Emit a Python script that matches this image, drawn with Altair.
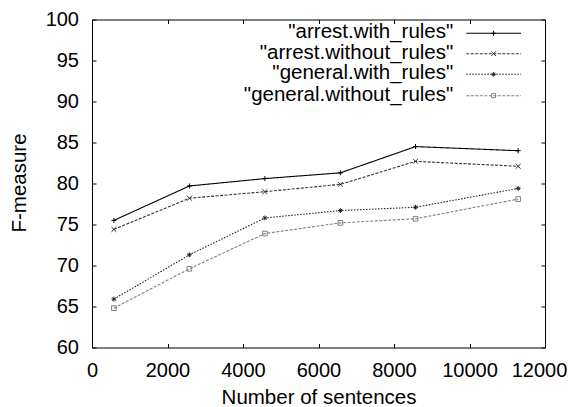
import altair as alt
import pandas as pd

# ---- data ----
sentences = [580, 2580, 4580, 6580, 8570, 11290]
series_names = ['"arrest.with_rules"', '"arrest.without_rules"',
                '"general.with_rules"', '"general.without_rules"']
arrest_with = [75.5, 79.7, 80.6, 81.3, 84.5, 84.0]
arrest_without = [74.4, 78.2, 79.0, 79.9, 82.7, 82.1]
general_with = [65.9, 71.3, 75.8, 76.7, 77.1, 79.4]
general_without = [64.8, 69.6, 73.9, 75.2, 75.7, 78.1]
x_ticks = [0, 2000, 4000, 6000, 8000, 10000, 12000]
y_ticks = [60, 65, 70, 75, 80, 85, 90, 95, 100]

# ---- styles ----
FONT = "Liberation Sans"
FS = 20.5
TFS = 20
colors = ["#000000", "#333333", "#222222", "#808080"]
dashes = [[1, 0], [3, 1.5], [1.5, 1.5], [3, 1.5]]
shapes = ["M-1,0L1,0M0,-1L0,1",
          "M-1,-1L1,1M-1,1L1,-1",
          "M-1,0L1,0M0,-1L0,1M-0.7,-0.7L0.7,0.7M-0.7,0.7L0.7,-0.7",
          "square"]
sizes = [25, 22, 20, 16]

all_values = [arrest_with, arrest_without, general_with, general_without]
rows = []
for name, vals in zip(series_names, all_values):
    for x, v in zip(sentences, vals):
        rows.append({"series": name, "x": x, "y": v})
df = pd.DataFrame(rows)

W, H = 453, 328
TICK = 4

xscale = alt.Scale(domain=[0, 12000], nice=False, zero=False)
yscale = alt.Scale(domain=[60, 100], nice=False, zero=False)
cscale = alt.Scale(domain=series_names, range=colors)
dscale = alt.Scale(domain=series_names, range=dashes)
sscale = alt.Scale(domain=series_names, range=shapes)
zscale = alt.Scale(domain=series_names, range=sizes)

last_x = x_ticks[-1]

lines = alt.Chart(df).mark_line(strokeWidth=1.1).encode(
    x=alt.X("x:Q", scale=xscale,
            axis=alt.Axis(orient="bottom", values=x_ticks, format="d",
                          offset=-TICK, tickSize=TICK,
                          labelPadding=13, title="Number of sentences",
                          titleX=W / 2, titleY=60, titleBaseline="alphabetic",
                          titleAlign="center", labelFlush=False, labelOverlap=False,
                          labelOffset={"condition": {"test": f"datum.value == {last_x}",
                                                     "value": -6},
                                       "value": 0})),
    y=alt.Y("y:Q", scale=yscale,
            axis=alt.Axis(orient="left", values=y_ticks, format="d",
                          offset=-TICK, tickSize=TICK,
                          labelPadding=13.5, title="F-measure",
                          titleX=-70.5, titleY=163, titleAngle=270,
                          titleBaseline="alphabetic", titleAlign="center",
                          labelOverlap=False, labelFlush=False)),
    color=alt.Color("series:N", scale=cscale, legend=None),
    strokeDash=alt.StrokeDash("series:N", scale=dscale, legend=None),
    detail="series:N",
)

points = alt.Chart(df).mark_point(filled=False, strokeWidth=1, opacity=1).encode(
    x=alt.X("x:Q", scale=xscale,
            axis=alt.Axis(orient="top", values=x_ticks, offset=-TICK, tickSize=TICK,
                          labels=False, title=None)),
    y=alt.Y("y:Q", scale=yscale,
            axis=alt.Axis(orient="right", values=y_ticks, offset=-TICK, tickSize=TICK,
                          labels=False, title=None)),
    color=alt.Color("series:N", scale=cscale, legend=None),
    shape=alt.Shape("series:N", scale=sscale, legend=None),
    size=alt.Size("series:N", scale=zscale, legend=None),
)

# ---- manual gnuplot-style legend (key chrome) ----
leg_line_y = [13.8, 34.2, 54.8, 76.2]
legend_layers = []
for i, name in enumerate(series_names):
    one = pd.DataFrame({"series": [name]})
    ly = leg_line_y[i]
    legend_layers.append(
        alt.Chart(one).mark_text(align="right", baseline="alphabetic", font=FONT,
                                 fontSize=FS, color="black").encode(
            text="series:N", x=alt.value(361.3), y=alt.value(ly + 4.8)))
    legend_layers.append(
        alt.Chart(one).mark_rule(color=colors[i], strokeDash=dashes[i],
                                 strokeWidth=1.1).encode(
            x=alt.value(374.3), x2=alt.value(429), y=alt.value(ly)))
    legend_layers.append(
        alt.Chart(one).mark_point(shape=shapes[i], filled=False, size=sizes[i],
                                  color=colors[i], strokeWidth=1, opacity=1).encode(
            x=alt.value(401.6), y=alt.value(ly)))

chart = alt.layer(lines, points, *legend_layers).resolve_axis(
    x="independent", y="independent"
).properties(
    width=W, height=H,
    autosize=alt.AutoSizeParams(type="none"),
    padding={"left": 84, "top": 11.5, "right": 23, "bottom": 59.5},
).configure_view(
    stroke="black", strokeWidth=1
).configure_axis(
    labelFont=FONT, titleFont=FONT, labelFontSize=TFS, titleFontSize=FS,
    labelColor="black", titleColor="black", tickColor="black",
    grid=False, domain=False, titleFontWeight="normal",
)

chart.save("out.html", embed_options={"renderer": "svg", "actions": False})
